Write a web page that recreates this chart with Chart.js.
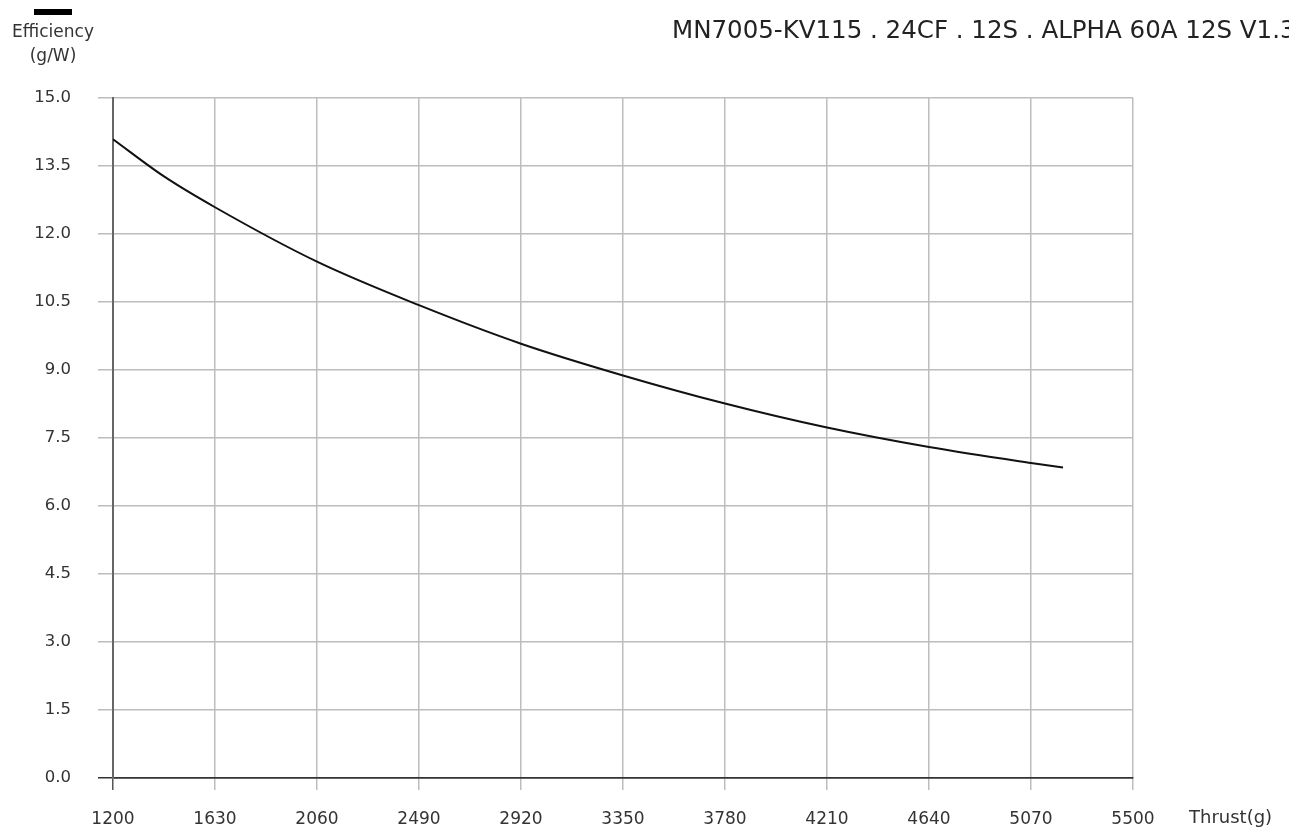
<!DOCTYPE html>
<html><head><meta charset="utf-8">
<script src="https://cdn.jsdelivr.net/npm/chart.js@4.4.1/dist/chart.umd.min.js"></script>
<style>html,body{margin:0;padding:0;background:#fff;overflow:hidden}canvas{display:block}</style>
</head><body>
<canvas id="c" width="1289" height="832"></canvas>
<script>
const chartTitle = "MN7005-KV115 . 24CF . 12S . ALPHA 60A 12S V1.3";
const yAxisLabel = ["Efficiency", "(g/W)"];
const xAxisLabel = "Thrust(g)";
const thrust = [1200, 1415, 1630, 2060, 2490, 2920, 3350, 3780, 4210, 4640, 5070, 5205];
const efficiency = [14.09, 13.27, 12.59, 11.39, 10.43, 9.58, 8.88, 8.26, 7.73, 7.30, 6.95, 6.85];
const xTicks = [1200, 1630, 2060, 2490, 2920, 3350, 3780, 4210, 4640, 5070, 5500];
const yTicks = [0, 1.5, 3, 4.5, 6, 7.5, 9, 10.5, 12, 13.5, 15];

const FONT = "'DejaVu Sans', sans-serif";
const textPlugin = {
  id: 'texts',
  afterDraw(chart) {
    const ctx = chart.ctx;
    ctx.save();
    ctx.fillStyle = '#000';
    ctx.fillRect(34, 9, 38, 6);
    ctx.fillStyle = '#333';
    ctx.font = "17px " + FONT;
    ctx.textAlign = 'center';
    ctx.textBaseline = 'middle';
    ctx.fillText(yAxisLabel[0], 53, 33);
    ctx.fillText(yAxisLabel[1], 53, 57);
    ctx.textAlign = 'left';
    ctx.font = "18px " + FONT;
    ctx.fillText(xAxisLabel, 1189, 818);
    ctx.fillStyle = '#222';
    ctx.font = "24.5px " + FONT;
    ctx.fillText(chartTitle, 672, 32);
    ctx.restore();
  }
};

new Chart(document.getElementById('c'), {
  type: 'line',
  data: {
    datasets: [{
      data: thrust.map((t, i) => ({x: t, y: efficiency[i]})),
      borderColor: '#111',
      borderWidth: 2,
      pointRadius: 0,
      cubicInterpolationMode: 'monotone',
      fill: false
    }]
  },
  options: {
    responsive: false,
    animation: false,
    layout: {padding: {top: 98, right: 156, left: 0, bottom: 0}},
    plugins: {legend: {display: false}, tooltip: {enabled: false}},
    scales: {
      x: {
        type: 'linear',
        min: 1200, max: 5500,
        afterBuildTicks(s) { s.ticks = xTicks.map(v => ({value: v})); },
        afterFit(s) { s.height = 54; },
        ticks: {color: '#333', font: {size: 17, family: FONT}, padding: 19, maxRotation: 0, autoSkip: false, callback: v => String(v)},
        grid: {color: (c) => c.index === 0 ? '#555' : '#bdbdbd', lineWidth: 1.5, tickLength: 12},
        border: {color: '#333', width: 1.5}
      },
      y: {
        min: 0, max: 15,
        afterBuildTicks(s) { s.ticks = yTicks.map(v => ({value: v})); },
        afterFit(s) { s.width = 113; },
        ticks: {color: '#333', font: {size: 16.5, family: FONT}, padding: 27, callback: v => v.toFixed(1)},
        grid: {color: (c) => c.index === 0 ? '#333' : '#bdbdbd', lineWidth: 1.5, tickLength: 15},
        border: {color: '#666', width: 2}
      }
    }
  },
  plugins: [textPlugin]
});
</script>
</body></html>
